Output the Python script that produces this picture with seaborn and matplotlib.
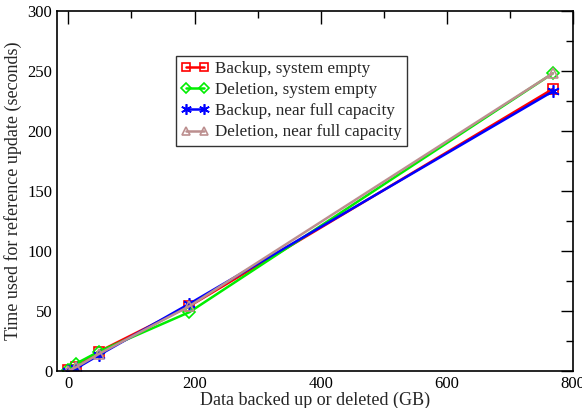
import matplotlib
matplotlib.use("Agg")
import matplotlib.pyplot as plt
import seaborn as sns
import pandas as pd
from matplotlib.ticker import MultipleLocator

sizes_gb = [0, 12, 48, 192, 768]
backup_empty = [1, 3, 16, 54, 235]
deletion_empty = [1, 6, 16, 49, 248]
backup_full = [0, 2, 13, 56, 233]
deletion_full = [0, 3, 14, 54, 248]

labels = ["Backup, system empty", "Deletion, system empty",
          "Backup, near full capacity", "Deletion, near full capacity"]
series = [backup_empty, deletion_empty, backup_full, deletion_full]
colors = ["#ff0000", "#00ee00", "#0000ff", "#bc8f8f"]
markers = ["s", "D", (6, 2, 0), "^"]
msizes = [7, 6.5, 9, 7]

sns.set_style("white")
plt.rcParams["font.family"] = ["Liberation Serif", "DejaVu Serif"]

fig = plt.figure(figsize=(5.82, 4.08), dpi=100)
ax = fig.add_axes([0.098, 0.091, 0.8865, 0.882])

for lab, vals, c, m, ms in zip(labels, series, colors, markers, msizes):
    df = pd.DataFrame({"x": sizes_gb, "y": vals})
    sns.lineplot(data=df, x="x", y="y", ax=ax, color=c, lw=1.8, marker=m,
                 markersize=ms, markerfacecolor="none", markeredgecolor=c,
                 markeredgewidth=1.2, label=lab)

ax.set_xlim(-18, 800)
ax.set_ylim(0, 300)
ax.xaxis.set_major_locator(MultipleLocator(200))
ax.xaxis.set_minor_locator(MultipleLocator(100))
ax.yaxis.set_major_locator(MultipleLocator(50))
ax.yaxis.set_minor_locator(MultipleLocator(25))
ax.tick_params(which="both", direction="in", top=True, right=True, labelsize=12, colors="black")
ax.tick_params(which="major", length=9, width=1)
ax.tick_params(which="minor", length=5, width=1)
for s in ax.spines.values():
    s.set_color("black")
    s.set_linewidth(1.2)
ax.set_xlabel("Data backed up or deleted (GB)", fontsize=13, labelpad=0)
ax.set_ylabel("Time used for reference update (seconds)", fontsize=13, labelpad=4)

leg = ax.legend(loc="upper left", bbox_to_anchor=(0.2306, 0.875), fontsize=12.3,
                frameon=True, fancybox=False, edgecolor="black", handlelength=1.65,
                numpoints=2, markerscale=0.85,
                borderpad=0.3, labelspacing=0.3, handletextpad=0.35, borderaxespad=0)
leg.get_frame().set_linewidth(1)

fig.savefig("out.png", dpi=100)
